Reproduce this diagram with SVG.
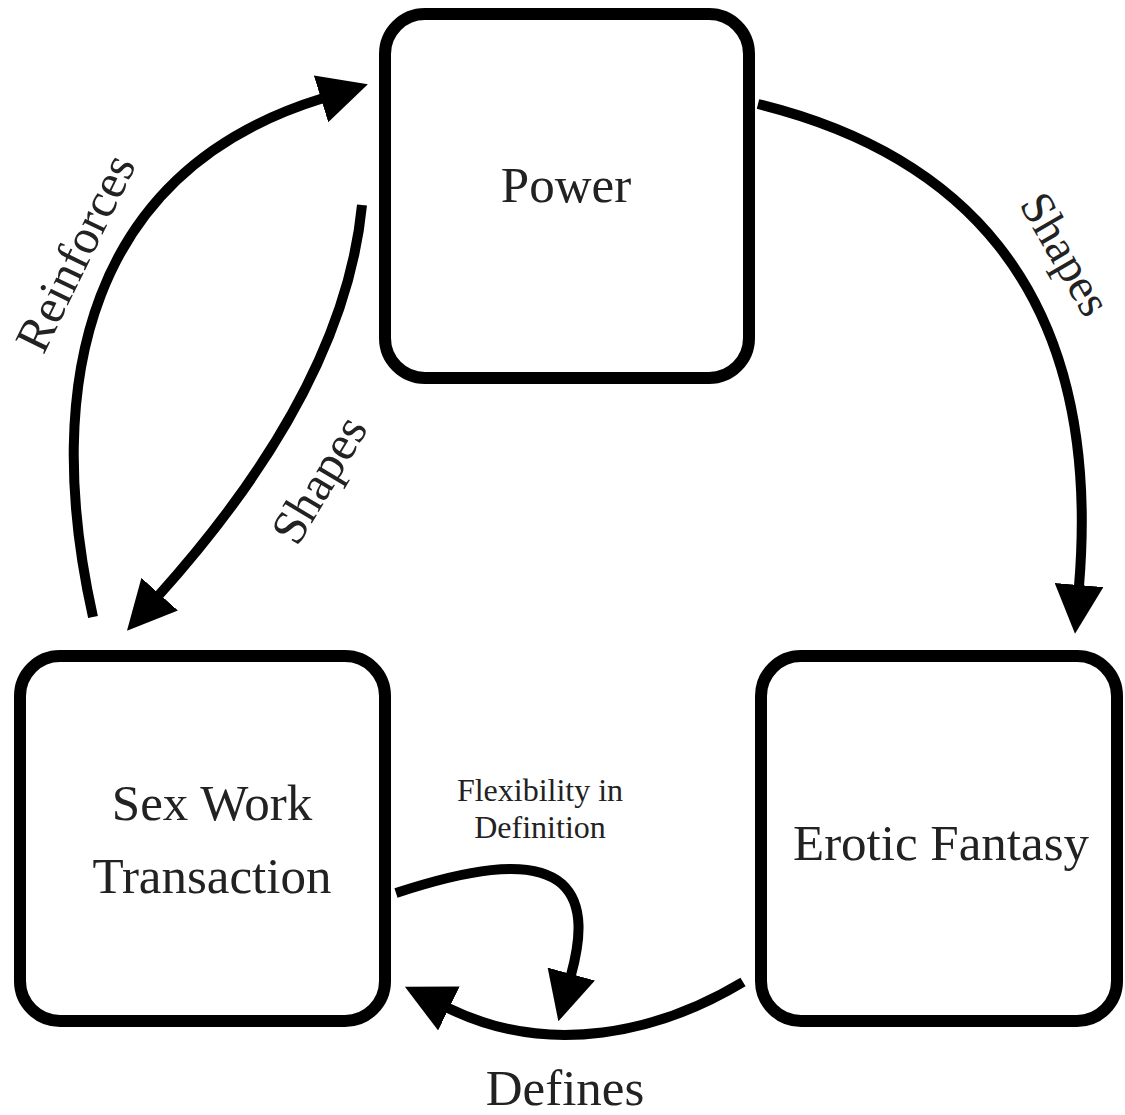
<svg xmlns="http://www.w3.org/2000/svg" width="1125" height="1115" viewBox="0 0 1125 1115">
  <style>
    .box { fill: #ffffff; stroke: #000000; stroke-width: 12; }
    .lbl { font-family: "Liberation Serif", "Times New Roman", serif; fill: #222222; text-anchor: middle; }
    .node { font-size: 51px; }
    .edge { font-size: 49px; }
    .small { font-size: 32px; }
    .conn { fill: none; stroke: #000000; stroke-width: 10; marker-end: url(#head); }
  </style>
  <defs>
    <marker id="head" markerUnits="userSpaceOnUse" markerWidth="49" markerHeight="49" viewBox="0 0 49 49" refX="1" refY="24.5" orient="auto">
      <path d="M0,0 L49,24.5 L0,49 z" fill="#000000"/>
    </marker>
  </defs>
  <rect width="1125" height="1115" fill="#ffffff"/>

  <g id="connectors">
    <path id="reinforces" class="conn" d="M93,617 C40,380 90,170 322,98.5"/>
    <path id="shapes-left" class="conn" d="M362,205 C350,330 280,460 159,595"/>
    <path id="shapes-right" class="conn" d="M758,104 C945,150 1105,275 1079,586"/>
    <path id="defines" class="conn" d="M743,982 C660,1032 550,1058 448,1008"/>
    <path id="flexibility" class="conn" d="M396,893 C460,872 530,856 562,884 C585,905 580,942 571,975"/>
    <text class="lbl edge" transform="translate(90,260) rotate(-64)">Reinforces</text>
    <text class="lbl edge" transform="translate(333,488) rotate(-59)">Shapes</text>
    <text class="lbl edge" style="font-size:47px" transform="translate(1052,262) rotate(60)">Shapes</text>
    <text class="lbl node" x="565" y="1105">Defines</text>
    <text class="lbl small" x="540" y="801">Flexibility in</text>
    <text class="lbl small" x="540" y="838">Definition</text>
  </g>

  <g id="power">
    <rect class="box" x="385" y="14" width="364" height="364" rx="40" ry="40"/>
    <text class="lbl node" x="566" y="202">Power</text>
  </g>

  <g id="sex-work-transaction">
    <rect class="box" x="20" y="656" width="365" height="365" rx="40" ry="40"/>
    <text class="lbl node" x="212" y="820">Sex Work</text>
    <text class="lbl node" x="212" y="893">Transaction</text>
  </g>

  <g id="erotic-fantasy">
    <rect class="box" x="761" y="656" width="356" height="365" rx="40" ry="40"/>
    <text class="lbl node" x="941" y="860">Erotic Fantasy</text>
  </g>
</svg>
